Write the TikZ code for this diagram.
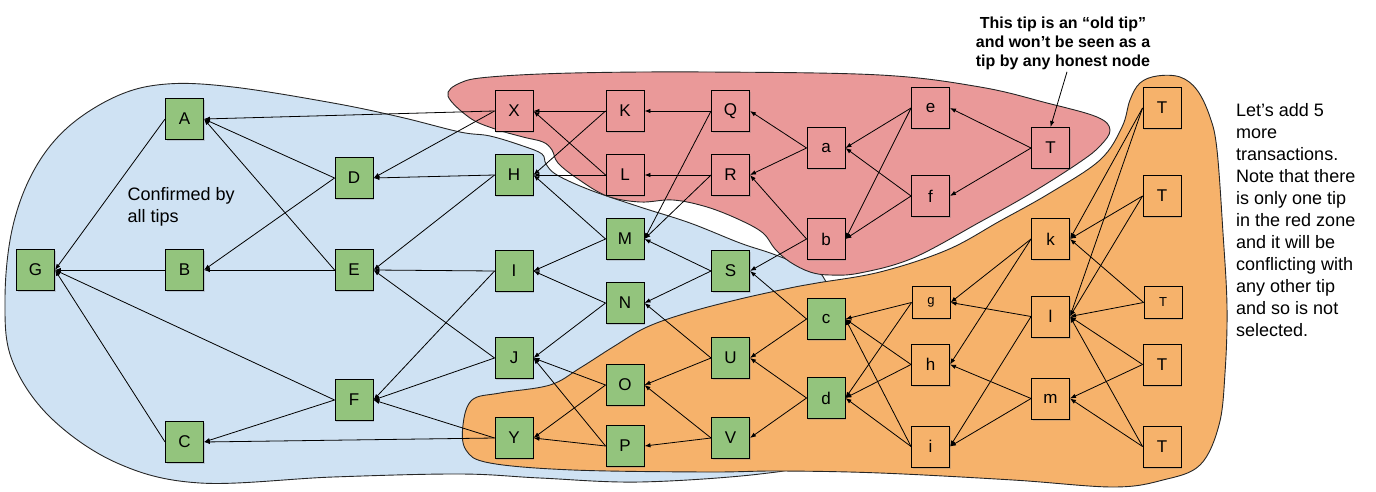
\documentclass[tikz,border=0pt]{standalone}
\usepackage{fontspec}
\setmainfont{Liberation Sans}
\usetikzlibrary{arrows.meta,shadows}
\definecolor{zblue}{HTML}{CFE2F3}
\definecolor{zred}{HTML}{EA9999}
\definecolor{zorange}{HTML}{F6B26B}
\definecolor{ngreen}{HTML}{93C47D}
\pgfdeclarelayer{bg}
\pgfdeclarelayer{edgelayer}
\pgfsetlayers{bg,edgelayer,main}
\begin{document}
\begin{tikzpicture}[x=1pt,y=-1pt,
  zone/.style={draw=black!85, line width=0.9pt},
  box/.style={draw=black, line width=0.9pt, minimum width=38pt, minimum height=41pt, inner sep=0pt,
    font=\fontsize{17}{17}\selectfont,
    drop shadow={shadow xshift=1.2pt, shadow yshift=-1.5pt, opacity=0.3}},
  gbox/.style={box, fill=ngreen},
  rbox/.style={box, fill=zred},
  obox/.style={box, fill=zorange},
  sbox/.style={obox, minimum height=32pt, font=\fontsize{13}{13}\selectfont},
  edge/.style={line width=0.8pt, -{Latex[length=6pt,width=4.5pt]}},
  txt/.style={inner sep=0pt, align=left, font=\fontsize{18}{22}\selectfont},
]
\useasboundingbox (0,0) rectangle (1376,492);

% nodes
\node[gbox] (nG) at (35.5,270) {G};
\node[gbox] (nA) at (184.5,119) {A};
\node[gbox] (nB) at (184.5,270) {B};
\node[gbox] (nC) at (184.5,442) {C};
\node[gbox] (nD) at (354,178) {D};
\node[gbox] (nE) at (354,270) {E};
\node[gbox] (nF) at (354,400) {F};
\node[rbox] (nX) at (514,111) {X};
\node[gbox] (nH) at (514,175) {H};
\node[gbox] (nI) at (514,271) {I};
\node[gbox] (nJ) at (514,358) {J};
\node[gbox] (nY) at (514,438) {Y};
\node[rbox] (nK) at (625,111) {K};
\node[rbox] (nL) at (625,175) {L};
\node[gbox] (nM) at (625,239) {M};
\node[gbox] (nN) at (625,303) {N};
\node[gbox] (nO) at (625,385) {O};
\node[gbox] (nP) at (625,446) {P};
\node[rbox] (nQ) at (730.5,111) {Q};
\node[rbox] (nR) at (730.5,175) {R};
\node[gbox] (nS) at (730.5,271) {S};
\node[gbox] (nU) at (730.5,358) {U};
\node[gbox] (nV) at (730.5,438) {V};
\node[rbox] (na) at (826,148) {a};
\node[rbox] (nb) at (826,239) {b};
\node[gbox] (nc) at (826,319) {c};
\node[gbox] (nd) at (826,398) {d};
\node[rbox] (ne) at (930.5,108) {e};
\node[rbox] (nf) at (930.5,196) {f};
\node[sbox] (ng) at (931,302.5) {g};
\node[obox] (nh) at (930.5,364.5) {h};
\node[obox] (ni) at (930.5,446.5) {i};
\node[rbox] (nTr) at (1050.5,148) {T};
\node[obox] (nk) at (1050.5,239) {k};
\node[obox] (nl) at (1050.5,316.5) {l};
\node[obox] (nm) at (1050.5,398.5) {m};
\node[obox] (nT1) at (1162,108) {T};
\node[obox] (nT2) at (1162,196) {T};
\node[sbox] (nT3) at (1163,302.5) {T};
\node[obox] (nT4) at (1162,364.5) {T};
\node[obox] (nT5) at (1162,446.5) {T};

% texts
\node[txt, anchor=north west] (conf) at (127.5,187) {Confirmed by\\all tips};
\node[txt, anchor=north west] (side) at (1236,103.5) {Let’s add 5\\more\\transactions.\\Note that there\\is only one tip\\in the red zone\\and it will be\\conflicting with\\any other tip\\and so is not\\selected.};
\node[inner sep=0pt, align=center, anchor=north, font=\bfseries\fontsize{16}{19}\selectfont] (note) at (1063,16.5) {This tip is an “old tip”\\and won’t be seen as a\\tip by any honest node};

% zones
\begin{pgfonlayer}{bg}
\draw[zone, fill=zblue] plot[smooth cycle, tension=0.6] coordinates {
 (5,300) (12,230) (33,172) (67,128) (117,96) (167,84) (233,87) (333,103) (400,117) (460,132)
 (490,136) (523,146) (542,154) (546,164) (557,175) (590,190) (640,207) (690,223) (740,243)
 (773,254) (807,268) (825,280) (845,340) (840,420) (805,462) (760,474) (640,482) (540,478)
 (460,474) (333,477) (200,483) (117,463) (50,417) (12,360)};
\draw[zone, fill=zred] plot[smooth cycle, tension=0.6] coordinates {
 (448,96) (460,83) (490,77) (573,73) (707,72) (880,75) (980,87) (1047,103) (1097,117)
 (1110,130) (1100,146) (1080,162) (1033,192) (980,222) (913,258) (860,273) (830,275)
 (810,272) (790,262) (775,249) (763,233) (740,220) (707,207) (673,200) (640,202) (607,196)
 (578,179) (558,163) (552,150) (543,142) (523,137) (495,129) (470,118)};
\draw[zone, fill=zorange] plot[smooth cycle, tension=0.6] coordinates {
 (463,425) (472,400) (500,393) (550,385) (580,368) (613,347) (647,327) (690,312) (740,299)
 (790,288) (817,283) (880,272) (947,250) (1000,221) (1050,193) (1100,160) (1122,127)
 (1130,100) (1140,83) (1157,76) (1180,77) (1197,90) (1210,117) (1217,150) (1223,233)
 (1227,307) (1225,373) (1219,425) (1200,465) (1163,480) (1113,487) (1013,480) (880,473)
 (780,471) (707,472) (573,470) (490,463) (466,450)};
\end{pgfonlayer}

% edges
\begin{pgfonlayer}{edgelayer}
\foreach \s/\t in {nA/nG, nB/nG, nC/nG, nF/nG, nD/nA, nE/nA, nX/nA, nD/nB, nE/nB, nF/nC, nY/nC,
  nX/nD, nH/nD, nH/nE, nI/nE, nJ/nE, nI/nF, nJ/nF, nY/nF,
  nK/nX, nL/nX, nK/nH, nL/nH, nM/nH, nQ/nK, nR/nL, nQ/nM, nR/nM, na/nQ, na/nR, nb/nR, nb/nS,
  nM/nI, nN/nI, nS/nM, nS/nN, nN/nJ, nO/nJ, nP/nJ, nU/nN, nU/nO, nV/nO, nV/nP, nO/nY, nP/nY,
  nc/nS, nc/nU, nd/nU, nd/nV,
  ne/na, ne/nb, nf/na, nf/nb, nTr/ne, nTr/nf,
  ng/nc, ng/nd, nh/nc, nh/nd, ni/nc, ni/nd, nk/ng, nk/nh, nl/ng, nl/ni, nm/nh, nm/ni,
  nT1/nk, nT1/nl, nT2/nk, nT2/nl, nT3/nk, nT3/nl, nT4/nl, nT4/nm, nT5/nl, nT5/nm}
  {\draw[edge] (\s.west) -- (\t.east);}
\draw[edge] ([xshift=4pt,yshift=-2pt]note.south) -- (nTr.north);
\end{pgfonlayer}
\end{tikzpicture}
\end{document}
